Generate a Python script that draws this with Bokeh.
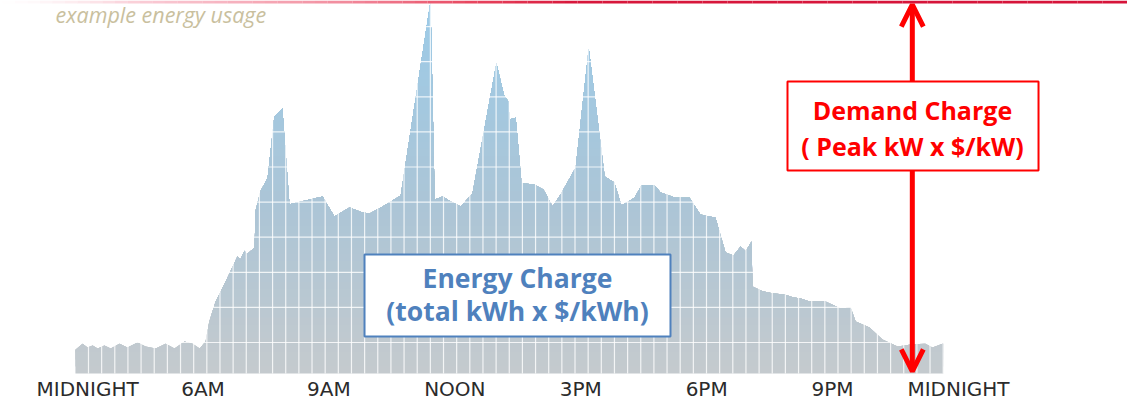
import numpy as np
from bokeh.plotting import figure
from bokeh.models import Range1d, Arrow, OpenHead, BoxAnnotation, Label
from bokeh.core.properties import value
from bokeh.embed import file_html
from bokeh.resources import INLINE

# ---------------- data ----------------
hours = [2.96, 3.13, 3.25, 3.37, 3.49, 3.65, 3.80, 4.01, 4.20, 4.44, 4.63, 4.87, 5.11, 5.32,
         5.56, 5.75, 5.92, 6.06, 6.15, 6.30, 6.54, 6.82, 6.89, 6.99, 7.04, 7.23, 7.25, 7.37,
         7.54, 7.70, 7.89, 8.06, 8.44, 8.85, 9.13, 9.49, 9.80, 9.97, 10.28, 10.71, 11.42,
         11.52, 11.71, 11.90, 12.14, 12.42, 12.99, 13.18, 13.28, 13.30, 13.45, 13.59, 13.87,
         14.11, 14.33, 14.52, 14.88, 15.19, 15.57, 15.80, 15.97, 16.28, 16.45, 16.76, 16.90,
         17.26, 17.59, 17.85, 18.21, 18.45, 18.64, 18.81, 18.93, 19.07, 19.09, 19.33, 19.59,
         19.86, 20.05, 20.24, 20.45, 20.83, 21.19, 21.43, 21.55, 21.88, 22.19, 22.55, 22.90,
         23.21, 23.38, 23.62, 23.64]
load_kw = [6.8, 8.5, 7.4, 8.0, 7.1, 8.0, 7.1, 8.5, 7.4, 8.8, 7.7, 7.1, 8.5, 7.1, 9.1, 8.5,
           7.1, 9.1, 14.8, 20.5, 26.2, 33.3, 32.5, 35.0, 33.9, 35.9, 46.2, 51.9, 55.8, 73.2,
           75.5, 48.2, 49.3, 50.4, 44.7, 47.3, 45.9, 45.6, 47.6, 50.7, 106.0, 49.6, 50.4, 49.0,
           47.6, 51.3, 88.3, 78.9, 77.5, 72.4, 72.9, 54.1, 53.9, 52.4, 47.6, 51.0, 58.7, 92.6,
           56.1, 54.4, 47.9, 50.1, 53.6, 53.6, 51.6, 50.1, 50.1, 45.3, 44.4, 34.5, 33.6, 36.2,
           34.8, 37.6, 24.8, 23.4, 22.8, 22.5, 21.7, 21.4, 20.5, 20.5, 18.5, 18.8, 14.8, 13.1,
           9.7, 7.7, 8.3, 8.5, 7.4, 8.5, 8.5]
tick_hours = [3.25, 6, 9, 12, 15, 18, 21, 24]
tick_labels = ["MIDNIGHT", "6AM", "9AM", "NOON", "3PM", "6PM", "9PM", "MIDNIGHT"]
title_text = "example energy usage"
energy_lines = ["Energy Charge", "(total kWh x $/kWh)"]
demand_lines = ["Demand Charge", "( Peak kW x $/kW)"]
peak_hour = 22.90

# ---------------- figure ----------------
PXK = 3.51  # px per kW
SHIFT = 2.0 / PXK
X0, X1 = 1.1747, 28.027
Y0, Y1 = -8.26 + SHIFT, 105.7 + SHIFT
p = figure(width=1127, height=400, x_range=Range1d(X0, X1), y_range=Range1d(Y0, Y1),
           output_backend="svg", toolbar_location=None, min_border=0,
           x_axis_location=None, y_axis_location=None)
p.grid.visible = False
p.outline_line_color = None
p.background_fill_color = "white"

# ---- gradient-filled area (layered, clipped at thresholds) ----
px = [hours[0]] + list(hours) + [hours[-1]]
py = [0.0] + list(load_kw) + [0.0]

def clip_above(xs, ys, t):
    ox, oy = [], []
    n = len(xs)
    for i in range(n):
        x1, y1 = xs[i], ys[i]
        x2, y2 = xs[(i + 1) % n], ys[(i + 1) % n]
        in1, in2 = y1 >= t, y2 >= t
        if in1:
            ox.append(x1); oy.append(y1)
        if in1 != in2:
            f = (t - y1) / (y2 - y1)
            ox.append(x1 + f * (x2 - x1)); oy.append(t)
    return ox, oy

stops_k = [0, 45, 106]
stops_r = [196, 172, 156]
stops_g = [202, 197, 203]
stops_b = [206, 214, 232]

def grad_color(k):
    r = int(round(np.interp(k, stops_k, stops_r)))
    g = int(round(np.interp(k, stops_k, stops_g)))
    b = int(round(np.interp(k, stops_k, stops_b)))
    return "#%02x%02x%02x" % (r, g, b)

lx, ly, lc = [], [], []
for t in np.arange(0, max(load_kw), 2.0):
    cx, cy = clip_above(px, py, t)
    if len(cx) >= 3:
        lx.append(cx); ly.append(cy); lc.append(grad_color(t))
p.patches(xs=lx, ys=ly, fill_color=lc, line_color=None)

# ---- white grid over the area ----
gx = 3.271 + 0.3133 * np.arange(0, 66)
gx = gx[gx <= hours[-1] + 0.01]
p.segment(x0=gx, x1=gx, y0=0, y1=max(load_kw), line_color="white", line_alpha=0.8, line_width=1.2)
gy = 8.83 + 10 * np.arange(0, 10)
p.segment(x0=hours[0], x1=hours[-1], y0=gy, y1=gy, line_color="white", line_alpha=0.8, line_width=1.2)

# ---- top red gradient rule ----
PXH = 41.97
sx = np.linspace(10, 1135, 91)
sh = (sx + 41.3) / PXH
mid = (sx[:-1] + sx[1:]) / 2
cst = [10, 150, 350, 480, 580, 1135]
cr = [250, 245, 240, 232, 216, 214]
cg = [215, 160, 120, 70, 24, 20]
cb = [222, 178, 140, 95, 60, 58]
ca = [0.0, 0.55, 0.85, 1.0, 1.0, 1.0]
seg_cols = ["#%02x%02x%02x" % (int(np.interp(m, cst, cr)), int(np.interp(m, cst, cg)), int(np.interp(m, cst, cb))) for m in mid]
seg_alpha = [float(np.interp(m, cst, ca)) for m in mid]
ytop = Y1 - 1.4 / PXK
p.segment(x0=sh[:-1], x1=sh[1:], y0=ytop, y1=ytop, line_color=seg_cols, line_alpha=seg_alpha, line_width=3)

# ---- x tick labels ----
p.text(x=tick_hours, y=[-8.0 + 13.0 / PXK] * len(tick_hours), text=tick_labels, text_align="center",
       text_baseline="alphabetic", text_font=value("DejaVu Sans"), text_font_size="20px",
       text_color="#2b2b2b")

# ---- demand arrow ----
p.add_layout(Arrow(start=OpenHead(size=22, line_color="red", line_width=5),
                   end=OpenHead(size=22, line_color="red", line_width=5),
                   x_start=peak_hour, y_start=0.6, x_end=peak_hour, y_end=Y1 - 1.2,
                   line_color="red", line_width=5))

# ---- annotation boxes ----
p.add_layout(BoxAnnotation(left=19.926, right=25.907, bottom=57.83, top=83.19,
                           fill_color="white", fill_alpha=1.0, line_color="#ff0000",
                           line_width=2, line_alpha=1.0))
p.add_layout(BoxAnnotation(left=9.848, right=17.138, bottom=10.54, top=33.90,
                           fill_color="white", fill_alpha=1.0, line_color="#4f81bd",
                           line_width=2, line_alpha=1.0))

for txt, yy in zip(demand_lines, [72.36, 62.11]):
    p.add_layout(Label(x=22.904, y=yy + 9.5 / PXK, text=txt, text_align="center",
                       text_baseline="alphabetic", text_font="Open Sans", text_font_style="bold",
                       text_font_size="25px", text_color="#ff0000"))
for txt, yy in zip(energy_lines, [24.50, 15.10]):
    p.add_layout(Label(x=13.493, y=yy + 9.9 / PXK, text=txt, text_align="center",
                       text_baseline="alphabetic", text_font="Open Sans", text_font_style="bold",
                       text_font_size="26.5px", text_color="#4f81bd"))

p.add_layout(Label(x=2.485, y=99.86 + 8.0 / PXK, text=title_text, text_align="left",
                   text_baseline="alphabetic", text_font="Open Sans", text_font_style="italic",
                   text_font_size="21.5px", text_color="#c9c09e"))

open("out.html", "w").write(file_html(p, INLINE))
